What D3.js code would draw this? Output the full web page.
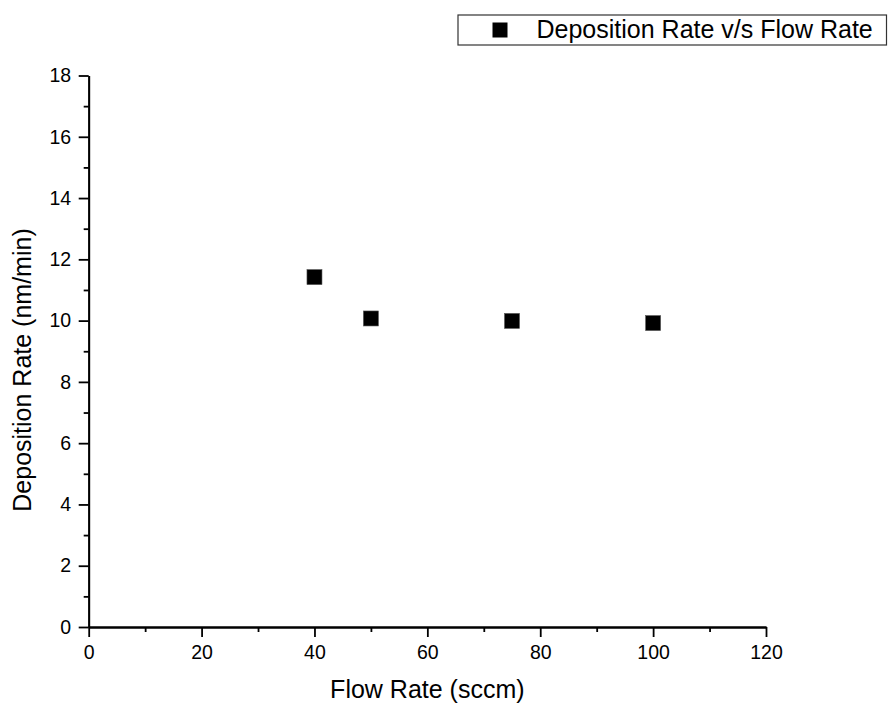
<!DOCTYPE html>
<html>
<head>
<meta charset="utf-8">
<script src="https://cdn.jsdelivr.net/npm/d3@7"></script>
<style>
  body { margin: 0; background: #fff; }
  svg { display: block; font-family: "Liberation Sans", Arial, sans-serif; }
  svg text { font-family: "Liberation Sans", Arial, sans-serif; }
  .axis path, .axis line { stroke: #000; stroke-width: 1.8px; }
  .axis text { font-size: 19.5px; fill: #000; font-family: "Liberation Sans", Arial, sans-serif; }
</style>
</head>
<body>
<div id="chart"></div>
<script>
// values
var flowRate = [40, 50, 75, 100];
var depRate = [11.42, 10.07, 9.99, 9.92];
var xMajor = [0, 20, 40, 60, 80, 100, 120];
var xMinor = [10, 30, 50, 70, 90, 110];
var yMajor = [0, 2, 4, 6, 8, 10, 12, 14, 16, 18];
var yMinor = [1, 3, 5, 7, 9, 11, 13, 15, 17];

var width = 888, height = 706;
var margin = { top: 75.5, right: 122, bottom: 79, left: 88.7 };

var svg = d3.select("#chart").append("svg")
    .attr("width", width)
    .attr("height", height);

var x = d3.scaleLinear()
    .domain([0, 120])
    .range([margin.left, width - margin.right]);

var y = d3.scaleLinear()
    .domain([0, 18])
    .range([height - margin.bottom, margin.top]);

// minor ticks first, then major with labels
svg.append("g")
    .attr("class", "axis")
    .attr("transform", "translate(0," + y(0) + ")")
    .call(d3.axisBottom(x).tickValues(xMinor).tickSize(5).tickSizeOuter(0).tickFormat(""));
svg.append("g")
    .attr("class", "axis")
    .attr("transform", "translate(0," + y(0) + ")")
    .call(d3.axisBottom(x).tickValues(xMajor).tickSize(10).tickSizeOuter(0).tickPadding(8.5));

svg.append("g")
    .attr("class", "axis")
    .attr("transform", "translate(" + x(0) + ",0)")
    .call(d3.axisLeft(y).tickValues(yMinor).tickSize(5).tickSizeOuter(0).tickFormat(""));
svg.append("g")
    .attr("class", "axis")
    .attr("transform", "translate(" + x(0) + ",0)")
    .call(d3.axisLeft(y).tickValues(yMajor).tickSize(10).tickSizeOuter(0).tickPadding(7.5));

svg.selectAll(".axis text").style("font-family", "'Liberation Sans', Arial, sans-serif");

// axis titles
svg.append("text")
    .attr("x", (x(0) + x(120)) / 2)
    .attr("y", 698)
    .attr("text-anchor", "middle")
    .style("font-size", "25px")
    .text("Flow Rate (sccm)");

svg.append("text")
    .attr("transform", "translate(31,370) rotate(-90)")
    .attr("text-anchor", "middle")
    .style("font-size", "25px")
    .text("Deposition Rate (nm/min)");

// points
var sz = 15;
svg.append("g")
    .selectAll("rect")
    .data(flowRate)
    .enter().append("rect")
    .attr("x", function(d) { return x(d) - sz / 2; })
    .attr("y", function(d, i) { return y(depRate[i]) - sz / 2; })
    .attr("width", sz)
    .attr("height", sz)
    .style("fill", "#000")
    .style("stroke", "#555")
    .style("stroke-width", 0.6);

// legend
var legend = svg.append("g");
legend.append("rect")
    .attr("x", 458)
    .attr("y", 15)
    .attr("width", 428.5)
    .attr("height", 30)
    .style("fill", "#fff")
    .style("stroke", "#333")
    .style("stroke-width", 1.2);
legend.append("rect")
    .attr("x", 500 - sz / 2)
    .attr("y", 30 - sz / 2)
    .attr("width", sz)
    .attr("height", sz)
    .style("fill", "#000");
legend.append("text")
    .attr("x", 536.5)
    .attr("y", 38)
    .style("font-size", "25px")
    .text("Deposition Rate v/s Flow Rate");
</script>
</body>
</html>
